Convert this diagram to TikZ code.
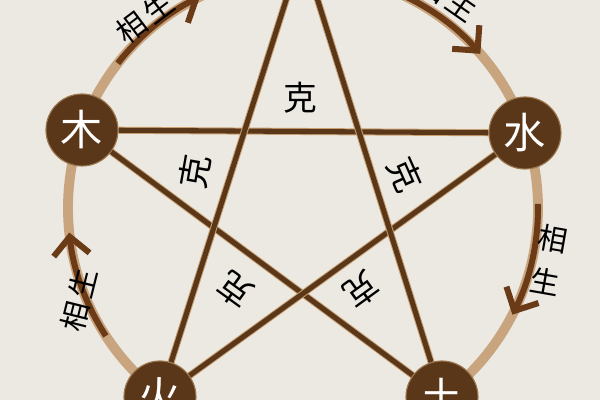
\documentclass[tikz,border=0pt]{standalone}
\usepackage{xcolor}
\usepackage{tikz}
\usetikzlibrary{shapes, arrows.meta, positioning}
\usepackage{fontspec}
\newfontfamily\cjk{Noto Sans CJK SC}
\definecolor{paper}{HTML}{ECE9E3}
\definecolor{ringtan}{HTML}{C9A57F}
\definecolor{bark}{HTML}{5A3719}
\definecolor{arrowbrown}{HTML}{6B3A17}
\definecolor{edgetan}{HTML}{C8A070}

\begin{document}
\begin{tikzpicture}[
        element/.style={circle, draw=edgetan!60!bark, line width=0.8pt, fill=bark, minimum size=1.8cm, inner sep=0pt, text=white, font=\cjk\fontsize{30}{30}\selectfont},
        keline/.style={draw=bark, line width=3.6pt, preaction={draw=edgetan, line width=5pt}},
        shengarrow/.style={draw=arrowbrown, line width=4.3pt, -{Straight Barb[length=4.5mm, width=9mm]}},
        kelabel/.style={font=\cjk\fontsize{24}{24}\selectfont},
        shenglabel/.style={font=\cjk\fontsize{21}{31}\selectfont, align=center}
    ]
    \fill[paper] (-7.575,-4.8) rectangle (7.425,5.2);
    \useasboundingbox (-7.575,-4.8) rectangle (7.425,5.2);
    \clip (-7.575,-4.8) rectangle (7.425,5.2);

    \draw[ringtan, line width=7pt] (0,0) circle (5.875);

    \draw[shengarrow] (142:5.875) arc[start angle=142, end angle=116, radius=5.875];
    \draw[shengarrow] (72:5.875) arc[start angle=72, end angle=41, radius=5.875];
    \draw[shengarrow] (1:5.875) arc[start angle=1, end angle=-27, radius=5.875];
    \draw[shengarrow] (213:5.875) arc[start angle=213, end angle=186, radius=5.875];

    \node[element] (mu) at (-5.525,1.95) {木};
    \node[element] (shui) at (5.55,1.875) {水};
    \node[element] (huo) at (-3.575,-4.725) {火};
    \node[element] (tu) at (3.475,-4.725) {土};
    \coordinate (jin) at (-0.025,6.45);

    \draw[keline] (mu) -- (shui);
    \draw[keline] (mu) -- (tu);
    \draw[keline] (shui) -- (huo);
    \draw[keline] (jin) -- (huo);
    \draw[keline] (jin) -- (tu);

    \node[kelabel] (ketop) at (-0.075,2.75) {克};
    \node[kelabel, rotate=80] (keleft) at (-2.7,0.9) {克};
    \node[kelabel, rotate=-66] (keright) at (2.55,0.825) {克};
    \node[kelabel, rotate=144] (kebl) at (-1.7,-2.05) {克};
    \node[kelabel, rotate=-144] (kebr) at (1.45,-2.05) {克};

    \node[shenglabel, rotate=37] (shengtl) at (-3.95,4.75) {相\hspace{3pt}生};
    \node[shenglabel, rotate=-35] (shengtr) at (3.62,5.3) {相\hspace{3pt}生};
    \node[shenglabel, rotate=-10] (shengr) at (6.15,-1.3) {相\\生};
    \node[shenglabel, rotate=76] (shengl) at (-5.6,-2.3) {相\hspace{3pt}生};
\end{tikzpicture}
\end{document}
